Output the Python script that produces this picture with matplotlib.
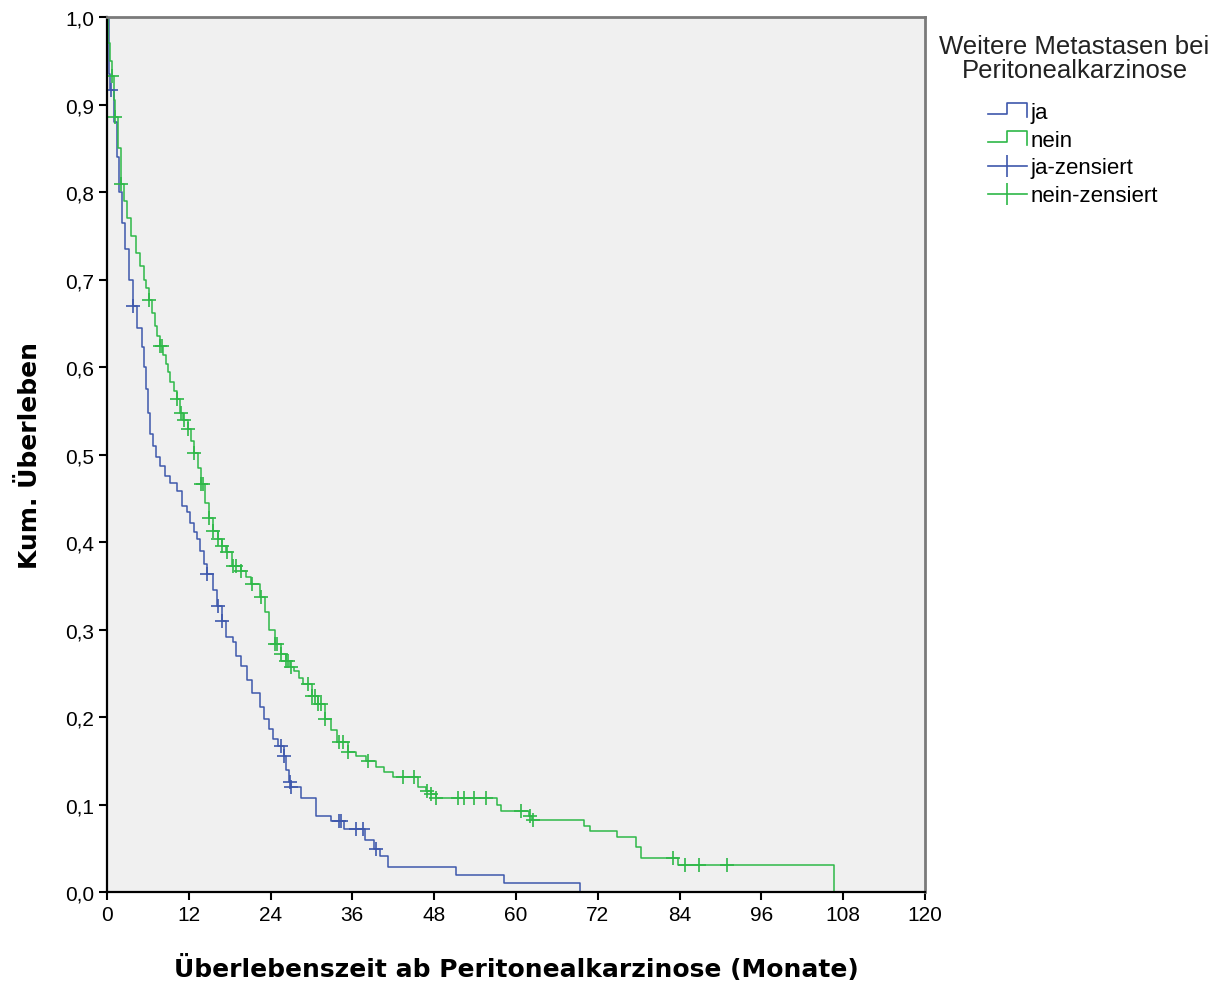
import matplotlib
matplotlib.use('Agg')
import matplotlib.pyplot as plt
from matplotlib.lines import Line2D
from matplotlib.legend_handler import HandlerBase
from matplotlib.ticker import FuncFormatter, MultipleLocator

plt.rcParams['font.family'] = ['Liberation Sans', 'DejaVu Sans']

# Kaplan-Meier Stufen (Zeit in Monaten, kum. Überleben)
ja_t = [0, 0.3, 0.5, 1.0, 1.4, 1.8, 2.2, 2.6, 3.2, 3.8, 4.4, 5.1, 5.4, 5.7, 6.0, 6.3,
        6.7, 7.2, 7.8, 8.5, 9.3, 10.3, 11.0, 11.7, 12.2, 12.7, 13.2, 13.7, 14.2, 14.7,
        15.5, 16.2, 16.9, 17.4, 18.5, 19.0, 19.6, 20.5, 21.3, 22.5, 23.1, 23.7, 24.4,
        25.1, 25.9, 26.3, 26.7, 27.0, 28.4, 30.6, 32.8, 34.8, 37.9, 39.2, 40.0, 41.2,
        51.2, 58.2, 69.4]
ja_s = [1.0, 0.935, 0.917, 0.88, 0.84, 0.80, 0.765, 0.735, 0.70, 0.67, 0.645, 0.623,
        0.60, 0.575, 0.548, 0.523, 0.51, 0.497, 0.487, 0.476, 0.468, 0.458, 0.441,
        0.434, 0.422, 0.412, 0.403, 0.39, 0.375, 0.363, 0.345, 0.327, 0.31, 0.291,
        0.286, 0.27, 0.258, 0.242, 0.228, 0.211, 0.198, 0.186, 0.175, 0.167, 0.155,
        0.14, 0.126, 0.12, 0.108, 0.087, 0.081, 0.072, 0.06, 0.049, 0.041, 0.029,
        0.019, 0.010, 0.0]

nein_t = [0, 0.2, 0.5, 0.7, 1.0, 1.2, 1.6, 2.1, 2.5, 3.0, 3.5, 4.2, 4.8, 5.4, 5.8, 6.2,
          6.6, 7.0, 7.4, 7.8, 8.2, 8.6, 9.0, 9.3, 9.8, 10.3, 10.7, 11.2, 11.9, 12.3,
          12.8, 13.3, 13.8, 14.4, 14.9, 15.6, 16.3, 16.9, 17.5, 18.4, 19.6, 20.4, 21.2,
          22.5, 23.2, 23.8, 24.7, 25.5, 26.2, 26.9, 27.4, 28.2, 28.8, 30.1, 31.0, 32.0,
          32.9, 33.8, 35.3, 36.5, 38.0, 39.5, 40.6, 41.9, 45.6, 46.8, 47.5, 48.2, 57.2,
          57.8, 61.9, 62.3, 70.0, 70.8, 74.8, 77.6, 78.4, 83.8, 106.6]
nein_s = [1.0, 0.97, 0.95, 0.933, 0.905, 0.886, 0.85, 0.809, 0.79, 0.77, 0.75, 0.73,
          0.715, 0.70, 0.69, 0.677, 0.662, 0.647, 0.635, 0.624, 0.614, 0.604, 0.594,
          0.583, 0.573, 0.563, 0.548, 0.54, 0.529, 0.515, 0.502, 0.485, 0.466, 0.445,
          0.428, 0.413, 0.403, 0.395, 0.389, 0.373, 0.367, 0.36, 0.352, 0.337, 0.32,
          0.30, 0.283, 0.272, 0.264, 0.257, 0.253, 0.245, 0.238, 0.224, 0.215, 0.198,
          0.185, 0.171, 0.16, 0.155, 0.15, 0.143, 0.137, 0.131, 0.12, 0.116, 0.112,
          0.107, 0.100, 0.093, 0.087, 0.082, 0.076, 0.070, 0.063, 0.051, 0.039, 0.031,
          0.0]

# zensierte Fälle
ja_cens_t = [0.6, 3.8, 14.7, 16.3, 16.9, 25.5, 25.9, 26.8, 27.0, 34.0, 34.4, 36.5, 37.6, 39.4]
ja_cens_s = [0.917, 0.67, 0.363, 0.327, 0.31, 0.167, 0.155, 0.126, 0.12, 0.081, 0.081,
             0.072, 0.072, 0.049]

nein_cens_t = [0.7, 1.2, 2.1, 6.2, 7.8, 8.1, 10.3, 10.8, 11.3, 11.9, 12.8, 13.8, 14.1,
               15.0, 15.6, 16.3, 16.9, 17.6, 18.5, 19.0, 19.7, 21.3, 22.6, 24.7, 25.0,
               25.6, 26.2, 26.5, 27.0, 29.5, 30.1, 30.5, 31.0, 31.4, 32.0, 34.0, 34.6,
               35.4, 38.3, 43.4, 45.0, 46.9, 47.6, 48.3, 51.5, 52.4, 53.8, 55.6, 60.7,
               62.0, 62.5, 83.0, 84.8, 86.8, 91.0]
nein_cens_s = [0.933, 0.886, 0.809, 0.677, 0.624, 0.624, 0.563, 0.548, 0.54, 0.529,
               0.502, 0.466, 0.466, 0.428, 0.413, 0.403, 0.395, 0.389, 0.373, 0.373,
               0.367, 0.352, 0.337, 0.283, 0.283, 0.272, 0.264, 0.264, 0.257, 0.238,
               0.224, 0.224, 0.215, 0.215, 0.198, 0.171, 0.171, 0.16, 0.15, 0.131,
               0.131, 0.116, 0.112, 0.107, 0.107, 0.107, 0.107, 0.107, 0.093, 0.087,
               0.082, 0.039, 0.031, 0.031, 0.031]

BLUE = '#3E58AC'
GREEN = '#2EB848'


class StepHandler(HandlerBase):
    # kleines Treppen-Symbol wie in SPSS
    def create_artists(self, legend, orig_handle, xdescent, ydescent, width, height,
                       fontsize, trans):
        x0 = -xdescent
        y0 = -ydescent
        xs = [x0, x0 + width * 0.5, x0 + width * 0.5, x0 + width, x0 + width]
        ys = [y0 + height * 0.25, y0 + height * 0.25, y0 + height * 0.95,
              y0 + height * 0.95, y0 + height * 0.05]
        ln = Line2D(xs, ys, color=orig_handle.get_color(), lw=1.2)
        ln.set_transform(trans)
        return [ln]


class CensHandler(HandlerBase):
    def create_artists(self, legend, orig_handle, xdescent, ydescent, width, height,
                       fontsize, trans):
        x0 = -xdescent
        yc = -ydescent + height * 0.45
        ln = Line2D([x0, x0 + width], [yc, yc], color=orig_handle.get_color(), lw=1.2)
        mk = Line2D([x0 + width * 0.5], [yc], color=orig_handle.get_color(),
                    marker='|', markersize=16, mew=1.2, linestyle='none')
        ln.set_transform(trans)
        mk.set_transform(trans)
        return [ln, mk]


fig = plt.figure(figsize=(12.28, 9.87), dpi=100)
ax = fig.add_axes([0.0871, 0.0952, 0.6661, 0.8865])
ax.set_facecolor('#F0F0F0')

ax.step(ja_t, ja_s, where='post', color=BLUE, lw=1.1)
ax.step(nein_t, nein_s, where='post', color=GREEN, lw=1.1)
ax.plot(ja_cens_t, ja_cens_s, linestyle='none', marker='+', markersize=10, mew=1.2,
        color=BLUE)
ax.plot(nein_cens_t, nein_cens_s, linestyle='none', marker='+', markersize=10, mew=1.2,
        color=GREEN)

ax.set_xlim(0, 120)
ax.set_ylim(0, 1.0)
ax.xaxis.set_major_locator(MultipleLocator(12))
ax.yaxis.set_major_locator(MultipleLocator(0.1))
ax.yaxis.set_major_formatter(FuncFormatter(lambda v, p: f'{v:.1f}'.replace('.', ',')))
ax.tick_params(axis='both', direction='out', length=6, width=1.5, labelsize=15,
               colors='black', pad=3)

for side in ['left', 'bottom']:
    ax.spines[side].set_color('black')
    ax.spines[side].set_linewidth(1.6)
for side in ['top', 'right']:
    ax.spines[side].set_color('#7A7A7A')
    ax.spines[side].set_linewidth(2)

ax.set_xlabel('Überlebenszeit ab Peritonealkarzinose (Monate)', fontsize=18,
              fontweight='bold', family='DejaVu Sans', labelpad=22)
ax.set_ylabel('Kum. Überleben', fontsize=18, fontweight='bold', family='DejaVu Sans')
ax.yaxis.set_label_coords(-0.08, 0.5)

fig.text(0.875, 0.9645, 'Weitere Metastasen bei\nPeritonealkarzinose', ha='center',
         va='top', fontsize=18.5, linespacing=1.0, color='#222222')

h_ja = Line2D([], [], color=BLUE)
h_nein = Line2D([], [], color=GREEN)
h_ja_c = Line2D([], [], color=BLUE)
h_nein_c = Line2D([], [], color=GREEN)
leg = fig.legend([h_ja, h_nein, h_ja_c, h_nein_c],
                 ['ja', 'nein', 'ja-zensiert', 'nein-zensiert'],
                 handler_map={h_ja: StepHandler(), h_nein: StepHandler(),
                              h_ja_c: CensHandler(), h_nein_c: CensHandler()},
                 loc='upper left', bbox_to_anchor=(988 / 1228, 1 - 103 / 987),
                 frameon=False, borderpad=0, borderaxespad=0,
                 fontsize=16, handlelength=1.75, handletextpad=0.15,
                 labelspacing=0.3)

plt.savefig('out.png', dpi=100)
